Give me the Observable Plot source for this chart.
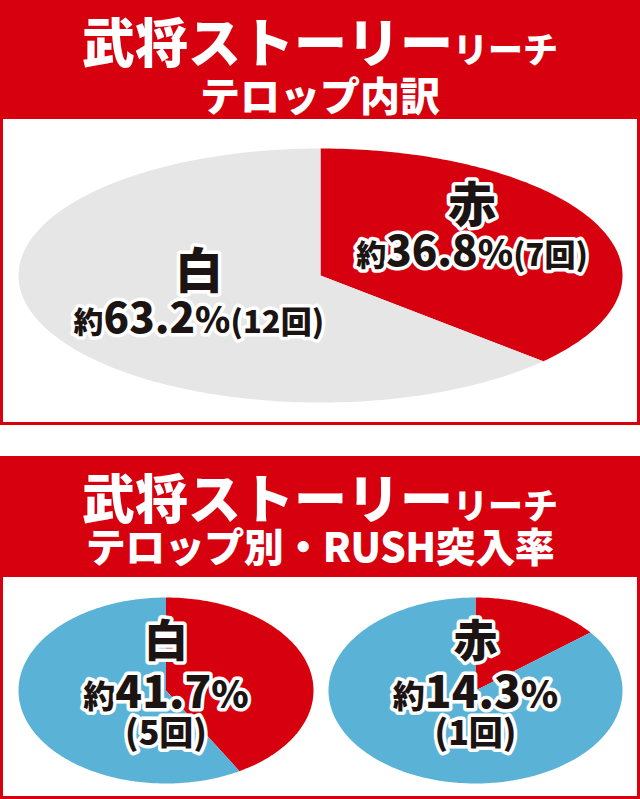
<!DOCTYPE html>
<html><head><meta charset="utf-8">
<script src="https://cdn.jsdelivr.net/npm/d3@7"></script>
<script src="https://cdn.jsdelivr.net/npm/@observablehq/plot@0.6"></script>
<style>
body{margin:0;background:#fff;font-family:"Noto Sans CJK JP",sans-serif;}
#wrap{width:640px;}
.header{background:#d7000f;color:#fff;position:relative;font-weight:900;}
.header div{position:absolute;left:0;width:100%;text-align:center;line-height:1;white-space:nowrap;}
.panel{border:3px solid #d7000f;border-top:none;width:640px;box-sizing:border-box;display:flex;}
.panel svg{display:block;}
</style></head>
<body><div id="wrap">
<div class="header" style="height:119px">
  <div style="top:14px;font-size:53px">武将ストーリー<span style="font-size:35px">リーチ</span></div>
  <div style="top:74px;font-size:40px">テロップ内訳</div>
</div>
<div class="panel" id="p1" style="height:306px"></div>
<div style="height:31px"></div>
<div class="header" style="height:121px">
  <div style="top:14px;font-size:53px">武将ストーリー<span style="font-size:35px">リーチ</span></div>
  <div style="top:69px;font-size:40px;letter-spacing:-0.5px">テロップ別・RUSH突入率</div>
</div>
<div class="panel" id="p2" style="height:222px"></div>
</div>
<script>
// ---- data ----
const telopCategories = ["赤", "白"];
const telopShares = [36.8, 63.2];
const telopCounts = [7, 12];

const rushCategories = ["白", "赤"];
const rushRates = [41.7, 14.3];
const rushCounts = [5, 1];

const RED = "#d7000f", GRAY = "#e6e6e6", BLUE = "#5ab3d6";
const INK = "#1c1412";
const FONT = "'Noto Sans CJK JP', sans-serif";

function slicePoints(values, colors) {
  const arcs = d3.pie().sort(null).value(d => d)(values);
  return arcs.map((a, i) => {
    const n = Math.max(4, Math.ceil((a.endAngle - a.startAngle) / (Math.PI / 180)));
    const pts = [{x: 0, y: 0}];
    for (let k = 0; k <= n; k++) {
      const t = a.startAngle + (a.endAngle - a.startAngle) * k / n;
      pts.push({x: Math.sin(t), y: Math.cos(t)});
    }
    return {pts, color: colors[i], mid: (a.startAngle + a.endAngle) / 2};
  });
}

function richify(svg, big, small, pct, paren) {
  svg.querySelectorAll("text").forEach(t => {
    const s = t.textContent;
    if (!s.startsWith("約")) return;
    const parts = s.match(/約|[0-9.]+|%|[^0-9.%約]+/g);
    t.textContent = "";
    let numSeen = false;
    for (const p of parts) {
      let size;
      if (p === "約") size = small;
      else if (/^[0-9.]+$/.test(p) && !numSeen) { size = big; numSeen = true; }
      else if (p === "%") size = pct;
      else size = paren;
      const ts = document.createElementNS("http://www.w3.org/2000/svg", "tspan");
      ts.setAttribute("font-size", size);
      ts.textContent = p;
      t.appendChild(ts);
    }
  });
}

const textStyle = {fill: INK, stroke: "white", strokeWidth: 7, strokeLinejoin: "round", paintOrder: "stroke", fontFamily: FONT, fontWeight: 900};

// ---- top chart ----
{
  const slices = slicePoints(telopShares, [RED, GRAY]);
  const place = {"赤": [0.61, -0.19], "白": [0.44, 0]};
  const labels = telopCategories.map((c, i) => {
    const [r, shift] = place[c];
    const a = slices[i].mid + shift;
    return {name: c, text: `約${telopShares[i]}%(${telopCounts[i]}回)`, x: r * Math.sin(a), y: r * Math.cos(a)};
  });
  const svg = Plot.plot({
    width: 634, height: 303,
    marginLeft: 15, marginRight: 15, marginTop: 29, marginBottom: 20,
    x: {domain: [-1, 1], axis: null},
    y: {domain: [-1, 1], axis: null},
    marks: [
      ...slices.map(s => Plot.line(s.pts, {x: "x", y: "y", fill: s.color, stroke: null, curve: "linear"})),
      Plot.text(labels, {x: "x", y: "y", text: "name", dy: -25, fontSize: 48, ...textStyle}),
      Plot.text(labels, {x: "x", y: "y", text: "text", dy: 22, fontSize: 40, ...textStyle})
    ]
  });
  richify(svg, 42, 30, 36, 31);
  document.getElementById("p1").appendChild(svg);
}

// ---- bottom charts ----
rushCategories.forEach((c, i) => {
  const slices = slicePoints([rushRates[i], 100 - rushRates[i]], [RED, BLUE]);
  const label = [{name: c, text: `約${rushRates[i]}%`, count: `(${rushCounts[i]}回)`, x: 0, y: 0}];
  const svg = Plot.plot({
    width: 317, height: 219,
    marginLeft: i === 0 ? 15 : 8, marginRight: i === 0 ? 7 : 15, marginTop: 20, marginBottom: 13,
    x: {domain: [-1, 1], axis: null},
    y: {domain: [-1, 1], axis: null},
    marks: [
      ...slices.map(s => Plot.line(s.pts, {x: "x", y: "y", fill: s.color, stroke: null, curve: "linear"})),
      Plot.text(label, {x: "x", y: "y", text: "name", dy: -48, fontSize: 44, ...textStyle}),
      Plot.text(label, {x: "x", y: "y", text: "text", dy: 4, fontSize: 42, ...textStyle}),
      Plot.text(label, {x: "x", y: "y", text: "count", dy: 44, fontSize: 34, ...textStyle})
    ]
  });
  richify(svg, 44, 32, 38, 34);
  document.getElementById("p2").appendChild(svg);
});
</script>
</body></html>
